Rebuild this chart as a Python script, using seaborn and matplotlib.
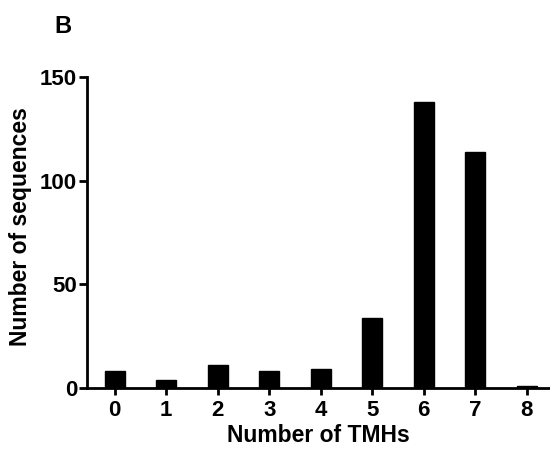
import matplotlib
matplotlib.use("Agg")
import matplotlib.pyplot as plt
import seaborn as sns
import pandas as pd

categories = ["0", "1", "2", "3", "4", "5", "6", "7", "8"]
counts = [8, 4, 11, 8, 9, 34, 138, 114, 1]
yticks = [0, 50, 100, 150]

sns.set_style("ticks")
plt.rcParams["font.family"] = ["Liberation Sans", "DejaVu Sans"]
plt.rcParams["font.weight"] = "bold"
plt.rcParams["text.color"] = "black"
plt.rcParams["axes.labelcolor"] = "black"
plt.rcParams["xtick.color"] = "black"
plt.rcParams["ytick.color"] = "black"

df = pd.DataFrame({"tmh": categories, "n": counts})

fig = plt.figure(figsize=(5.5, 4.49), dpi=100)
ax = fig.add_axes([0.158, 0.136, 0.842, 0.692])
sns.barplot(data=df, x="tmh", y="n", color="black", width=0.39,
            saturation=1, ax=ax, edgecolor="black")

ax.set_ylim(0, 150)
ax.set_xlim(-0.54, 8.45)
ax.set_yticks(yticks)
ax.set_yticklabels([str(t) for t in yticks], fontsize=16, fontweight="bold")
ax.set_xticklabels(categories, fontsize=16, fontweight="bold")
ax.set_xlabel("Number of TMHs", fontsize=16.5, fontweight="bold", labelpad=2)
ax.set_ylabel("Number of sequences", fontsize=16.5, fontweight="bold", labelpad=5)
ax.yaxis.set_label_coords(-0.118, 0.52)
for s in ["top", "right"]:
    ax.spines[s].set_visible(False)
for s in ["left", "bottom"]:
    ax.spines[s].set_linewidth(2)
    ax.spines[s].set_color("black")
ax.tick_params(axis="y", width=2, length=6, color="black", pad=1)
ax.tick_params(axis="x", width=2, length=5, color="black", pad=4)

fig.text(0.115, 0.94, "B", fontsize=17, fontweight="bold", ha="center", va="center")

fig.savefig("out.png", dpi=100)
